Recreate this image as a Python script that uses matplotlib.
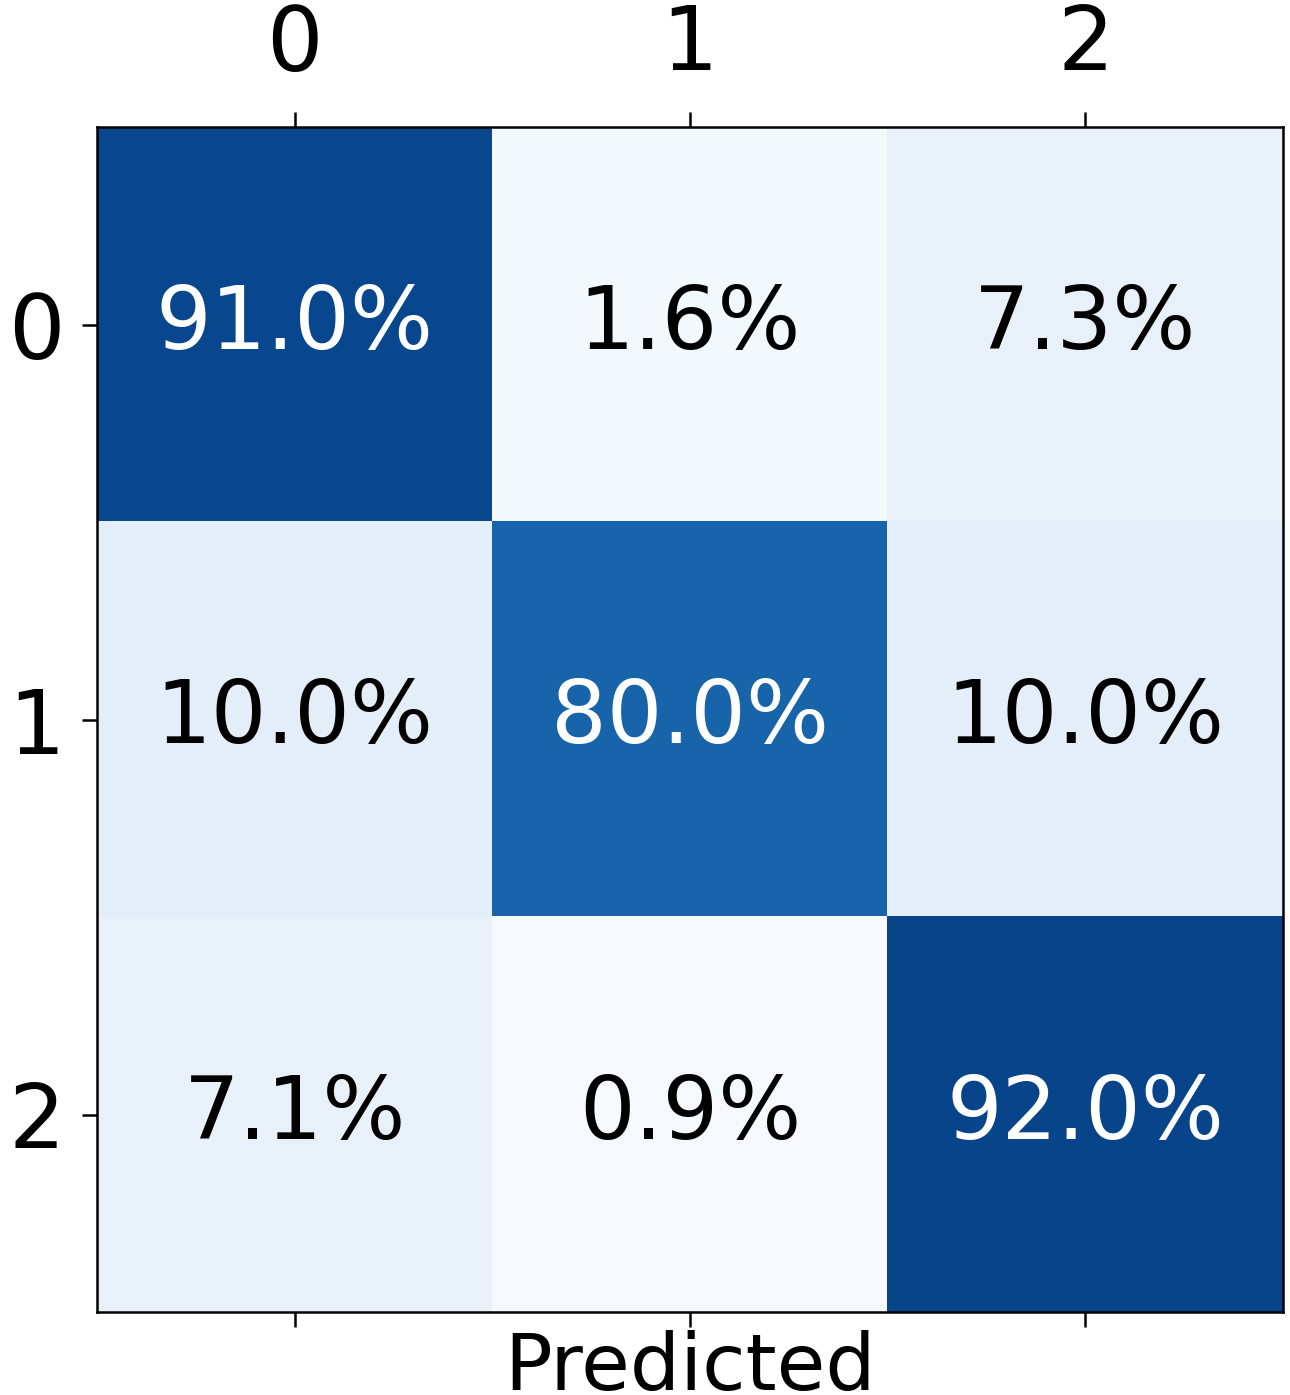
import numpy as np
import matplotlib.pyplot as plt

# confusion matrix, row-normalised percentages
classes = ["0", "1", "2"]
cm_pct = np.array([
    [91.0, 1.6, 7.3],
    [10.0, 80.0, 10.0],
    [7.1, 0.9, 92.0],
])

fig = plt.figure(figsize=(12.9, 13.95), dpi=100)
ax = fig.add_axes([97 / 1290, 83 / 1395, 1186 / 1290, 1185 / 1395])

ax.matshow(cm_pct, cmap="Blues", vmin=0, vmax=100, aspect="auto")

thresh = cm_pct.max() / 2
for i in range(cm_pct.shape[0]):
    for j in range(cm_pct.shape[1]):
        ax.text(j, i, f"{cm_pct[i, j]:.1f}%", ha="center", va="center",
                fontsize=63,
                color="white" if cm_pct[i, j] > thresh else "black")

ax.set_xticks(range(len(classes)))
ax.set_yticks(range(len(classes)))
ax.set_xticklabels(classes)
ax.set_yticklabels(classes)
ax.tick_params(axis="x", which="major", length=11, width=1.8, labelsize=64,
               top=True, bottom=True, labeltop=True, labelbottom=False, pad=16)
ax.tick_params(axis="y", which="major", length=11, width=1.8, labelsize=64,
               pad=12)
for s in ax.spines.values():
    s.set_linewidth(1.8)

ax.xaxis.set_label_position("bottom")
ax.set_xlabel("Predicted", fontsize=57, labelpad=2)

fig.savefig("out.png", dpi=100)
